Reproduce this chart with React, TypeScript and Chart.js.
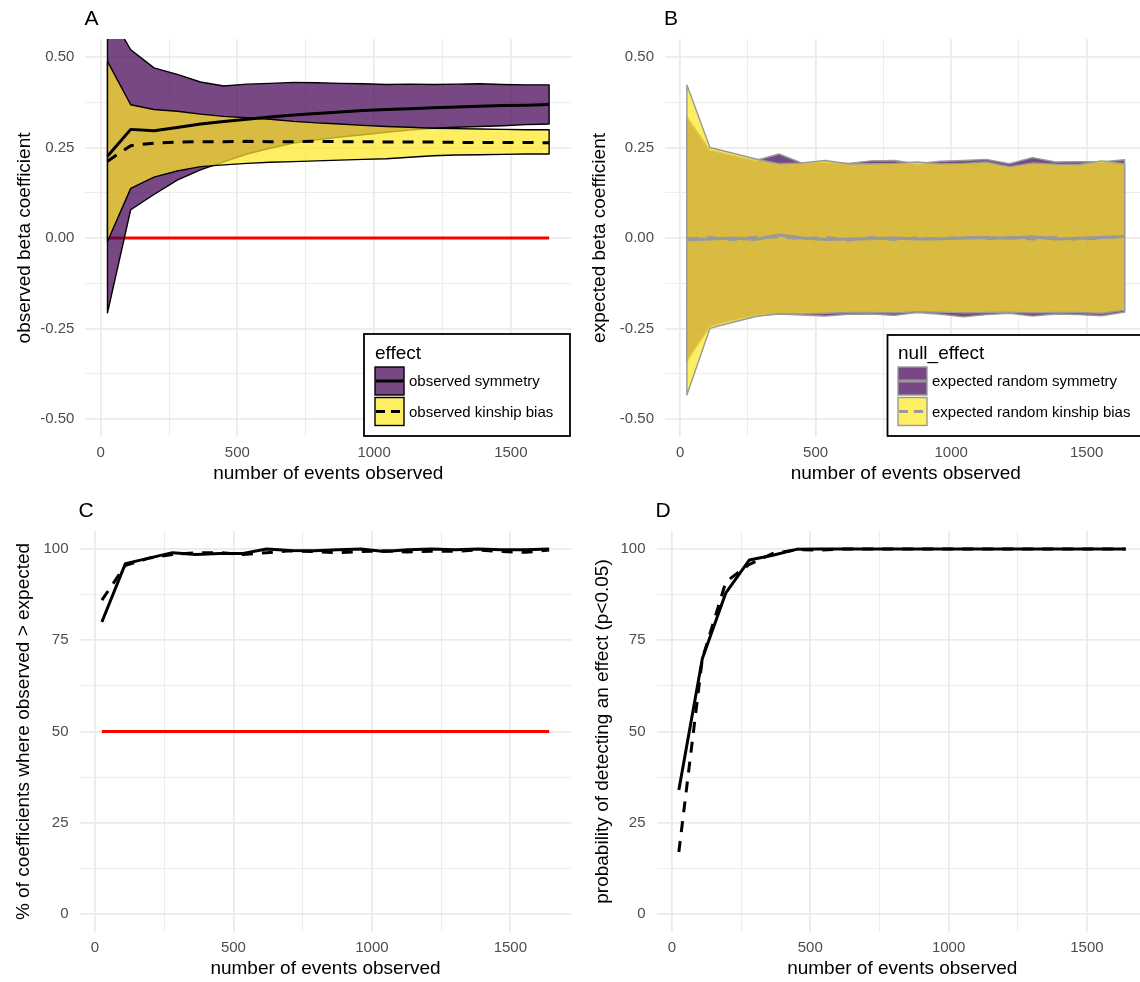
import React, { useEffect, useRef } from 'react';
import { Chart, registerables } from 'chart.js';

Chart.register(...registerables);

const FONT = "'Liberation Sans', Arial, Helvetica, sans-serif";

// number of events observed (shared x values)
const xEvents = [25, 110, 195, 280, 365, 450, 535, 620, 705, 790, 875, 960, 1045, 1130, 1215, 1300, 1385, 1470, 1555, 1640];

// Panel A: observed beta coefficients
const symUpper = [0.63, 0.52, 0.47, 0.452, 0.431, 0.42, 0.425, 0.427, 0.43, 0.429, 0.427, 0.426, 0.424, 0.425, 0.424, 0.425, 0.426, 0.424, 0.423, 0.423];
const symLower = [-0.207, 0.078, 0.12, 0.16, 0.188, 0.21, 0.232, 0.248, 0.262, 0.271, 0.279, 0.285, 0.292, 0.298, 0.303, 0.306, 0.308, 0.31, 0.313, 0.315];
const symMean = [0.226, 0.3, 0.296, 0.305, 0.315, 0.322, 0.328, 0.334, 0.34, 0.344, 0.348, 0.352, 0.355, 0.357, 0.36, 0.362, 0.364, 0.366, 0.367, 0.369];
const kinUpper = [0.488, 0.368, 0.355, 0.35, 0.342, 0.336, 0.332, 0.328, 0.322, 0.318, 0.315, 0.311, 0.308, 0.306, 0.303, 0.302, 0.301, 0.3, 0.299, 0.299];
const kinLower = [-0.01, 0.137, 0.168, 0.185, 0.197, 0.202, 0.206, 0.209, 0.211, 0.213, 0.215, 0.217, 0.219, 0.223, 0.227, 0.229, 0.23, 0.231, 0.232, 0.232];
const kinMean = [0.212, 0.255, 0.262, 0.265, 0.266, 0.266, 0.267, 0.266, 0.266, 0.267, 0.266, 0.266, 0.265, 0.265, 0.265, 0.264, 0.264, 0.264, 0.264, 0.263];
const zeroEffect = 0;

// Panel B: expected (null) beta coefficients
const nullSymUpper = [0.335, 0.243, 0.228, 0.214, 0.232, 0.207, 0.21, 0.206, 0.213, 0.214, 0.205, 0.212, 0.214, 0.217, 0.205, 0.222, 0.21, 0.211, 0.21, 0.216];
const nullSymLower = [-0.34, -0.245, -0.228, -0.215, -0.21, -0.213, -0.216, -0.211, -0.21, -0.214, -0.206, -0.211, -0.218, -0.212, -0.208, -0.216, -0.21, -0.212, -0.215, -0.205];
const nullSymMean = [-0.005, -0.003, 0.0, -0.004, 0.008, 0.0, -0.004, -0.003, -0.002, 0.0, -0.003, -0.002, 0.0, 0.001, -0.001, 0.003, -0.003, -0.001, 0.001, 0.004];
const nullKinUpper = [0.423, 0.25, 0.234, 0.218, 0.205, 0.207, 0.214, 0.205, 0.205, 0.206, 0.21, 0.205, 0.206, 0.21, 0.197, 0.207, 0.204, 0.203, 0.213, 0.205];
const nullKinLower = [-0.434, -0.25, -0.233, -0.217, -0.209, -0.21, -0.208, -0.206, -0.206, -0.207, -0.204, -0.205, -0.207, -0.206, -0.205, -0.207, -0.206, -0.206, -0.208, -0.2];
const nullKinMean = [-0.002, 0.001, -0.004, 0.002, 0.003, -0.002, 0.002, -0.006, 0.001, -0.004, 0.0, -0.003, 0.002, -0.002, 0.001, -0.003, 0.002, -0.004, 0.0, 0.005];

// Panel C: % of coefficients where observed > expected
const pctSym = [80, 96, 97.5, 99, 98.5, 98.8, 98.8, 100, 99.6, 99.5, 99.8, 100, 99.3, 99.8, 100, 99.8, 100, 99.8, 99.8, 100];
const pctKin = [86, 95.5, 97.5, 98.5, 99, 99, 98.5, 99, 99.5, 99.3, 99, 99.3, 99.5, 99.2, 99.4, 99.4, 99.7, 99.3, 99.1, 99.7];
const chanceLevel = 50;

// Panel D: probability of detecting an effect
const powSym = [34, 70, 88, 97, 98.3, 99.9, 100, 100, 100, 100, 100, 100, 100, 100, 100, 100, 100, 100, 100, 100];
const powKin = [17, 70, 91, 95.8, 98.8, 99.8, 99.7, 100, 100, 100, 100, 100, 100, 100, 100, 100, 100, 100, 100, 100];

// axes
const xMajorTicks = [0, 500, 1000, 1500];
const xMinorTicks = [250, 750, 1250];
const xLimits = [-55.75, 1720.75];
const betaMajorTicks = [-0.5, -0.25, 0, 0.25, 0.5];
const betaMinorTicks = [-0.375, -0.125, 0.125, 0.375];
const betaLimits = [-0.55, 0.55];
const pctMajorTicks = [0, 25, 50, 75, 100];
const pctMinorTicks = [12.5, 37.5, 62.5, 87.5];
const pctLimits = [-5, 105];

// colours
const PURPLE_FILL = 'rgba(68,1,84,0.72)';
const YELLOW_FILL = 'rgba(253,231,37,0.72)';
const BLACK = '#000000';
const GREY = '#999999';
const RED = '#FF0000';
const DASH = [11, 9];

type Pt = { x: number; y: number };
const series = (ys: number[]): Pt[] => xEvents.map((x, i) => ({ x, y: ys[i] }));
const band = (upper: number[], lower: number[]): Pt[] => {
  const top = series(upper);
  const bottom = series(lower).reverse();
  return [...top, ...bottom, top[0]];
};
const hline = (y: number): Pt[] => [
  { x: xEvents[0], y },
  { x: xEvents[xEvents.length - 1], y },
];

const lineDs = (label: string, data: Pt[], color: string, width: number, dash: number[], order: number) => ({
  label,
  data,
  showLine: true,
  borderColor: color,
  backgroundColor: color,
  borderWidth: width,
  borderDash: dash,
  borderJoinStyle: 'round',
  pointRadius: 0,
  pointHoverRadius: 0,
  fill: false,
  tension: 0,
  order,
});

const bandDs = (label: string, data: Pt[], fillColor: string, edge: string, order: number) => ({
  label,
  data,
  showLine: true,
  borderColor: edge,
  backgroundColor: fillColor,
  borderWidth: 1.4,
  borderJoinStyle: 'round',
  pointRadius: 0,
  pointHoverRadius: 0,
  fill: 'shape',
  tension: 0,
  order,
});

type LegendItem = { label: string; fill: string; edge: string; line: string; dash: number[] };
type LegendSpec = {
  x: number; y: number; w: number; h: number; title: string; titleY: number;
  keyX: number; keyY: number; keyW: number; keyH: number; keyStep: number; labelX: number;
  items: LegendItem[];
};

type PanelSpec = {
  letter: string;
  left: number; top: number; w: number; h: number;
  yAxisW: number; padTop: number; padRight: number; xAxisH: number;
  yLim: number[]; yMajor: number[]; yMinor: number[]; yFmt: (v: number) => string;
  xTitle: string; yTitle: string; xTitleY: number; yTitleX: number; letterY: number;
  datasets: any[];
  legend?: LegendSpec;
};

function drawLegend(ctx: CanvasRenderingContext2D, L: LegendSpec) {
  ctx.save();
  ctx.fillStyle = '#ffffff';
  ctx.fillRect(L.x, L.y, L.w, L.h);
  ctx.strokeStyle = '#000000';
  ctx.lineWidth = 1.8;
  ctx.strokeRect(L.x, L.y, L.w, L.h);
  ctx.fillStyle = '#000000';
  ctx.font = `19px ${FONT}`;
  ctx.textAlign = 'left';
  ctx.textBaseline = 'alphabetic';
  ctx.fillText(L.title, L.keyX, L.titleY);
  L.items.forEach((it, i) => {
    const ky = L.keyY + i * L.keyStep;
    const cy = ky + L.keyH / 2;
    ctx.fillStyle = it.fill;
    ctx.fillRect(L.keyX, ky, L.keyW, L.keyH);
    ctx.strokeStyle = it.edge;
    ctx.lineWidth = 1.4;
    ctx.strokeRect(L.keyX, ky, L.keyW, L.keyH);
    ctx.strokeStyle = it.line;
    ctx.lineWidth = 3;
    ctx.setLineDash(it.dash);
    ctx.beginPath();
    ctx.moveTo(L.keyX + 1, cy);
    ctx.lineTo(L.keyX + L.keyW - 1, cy);
    ctx.stroke();
    ctx.setLineDash([]);
    ctx.fillStyle = '#000000';
    ctx.font = `15px ${FONT}`;
    ctx.textBaseline = 'middle';
    ctx.fillText(it.label, L.labelX, cy + 1);
  });
  ctx.restore();
}

const makeDecor = (spec: PanelSpec) => ({
  id: 'decor' + spec.letter,
  afterDraw(chart: any) {
    const { ctx, chartArea: a } = chart;
    ctx.save();
    ctx.fillStyle = '#000000';
    ctx.font = `21px ${FONT}`;
    ctx.textAlign = 'left';
    ctx.textBaseline = 'alphabetic';
    ctx.fillText(spec.letter, a.left - 1, spec.letterY);
    ctx.font = `19px ${FONT}`;
    ctx.textAlign = 'center';
    ctx.textBaseline = 'middle';
    ctx.fillText(spec.xTitle, (a.left + a.right) / 2, spec.xTitleY);
    ctx.save();
    ctx.translate(spec.yTitleX, (a.top + a.bottom) / 2);
    ctx.rotate(-Math.PI / 2);
    ctx.fillText(spec.yTitle, 0, 0);
    ctx.restore();
    if (spec.legend) drawLegend(ctx, spec.legend);
    ctx.restore();
  },
});

const isIn = (arr: number[], v: any) => typeof v === 'number' && arr.some((m) => Math.abs(m - v) < 1e-9);

function buildConfig(spec: PanelSpec): any {
  const yTicks = [...spec.yMajor, ...spec.yMinor].sort((p, q) => p - q);
  const xTicks = [...xMajorTicks, ...xMinorTicks].sort((p, q) => p - q);
  return {
    type: 'line',
    data: { datasets: spec.datasets },
    options: {
      responsive: false,
      maintainAspectRatio: false,
      animation: false,
      devicePixelRatio: 1,
      events: [],
      layout: { padding: { left: 0, top: spec.padTop, right: spec.padRight, bottom: 0 } },
      plugins: { legend: { display: false }, tooltip: { enabled: false } },
      scales: {
        x: {
          type: 'linear',
          min: xLimits[0],
          max: xLimits[1],
          afterBuildTicks: (s: any) => {
            s.ticks = xTicks.map((v) => ({ value: v }));
          },
          afterFit: (s: any) => {
            s.height = spec.xAxisH;
          },
          grid: {
            color: '#EBEBEB',
            lineWidth: (c: any) => (c.tick && isIn(xMajorTicks, c.tick.value) ? 1.8 : 0.9),
            drawTicks: false,
          },
          border: { display: false },
          ticks: {
            autoSkip: false,
            maxRotation: 0,
            padding: 7,
            color: '#4D4D4D',
            font: { family: FONT, size: 15 },
            callback: (v: any) => (isIn(xMajorTicks, v) ? String(v) : ''),
          },
        },
        y: {
          type: 'linear',
          min: spec.yLim[0],
          max: spec.yLim[1],
          afterBuildTicks: (s: any) => {
            s.ticks = yTicks.map((v) => ({ value: v }));
          },
          afterFit: (s: any) => {
            s.width = spec.yAxisW;
          },
          grid: {
            color: '#EBEBEB',
            lineWidth: (c: any) => (c.tick && isIn(spec.yMajor, c.tick.value) ? 1.8 : 0.9),
            drawTicks: false,
          },
          border: { display: false },
          ticks: {
            autoSkip: false,
            padding: 11,
            color: '#4D4D4D',
            font: { family: FONT, size: 15 },
            callback: (v: any) => (isIn(spec.yMajor, v) ? spec.yFmt(v) : ''),
          },
        },
      },
    },
    plugins: [makeDecor(spec)],
  };
}

const fmtBeta = (v: number) => (Math.abs(v) < 1e-9 ? '0.00' : v.toFixed(2));
const fmtPct = (v: number) => String(Math.round(v));

const panelA: PanelSpec = {
  letter: 'A',
  left: 0, top: 0, w: 576, h: 490,
  yAxisW: 85.4, padTop: 38.9, padRight: 4.8, xAxisH: 53,
  yLim: betaLimits, yMajor: betaMajorTicks, yMinor: betaMinorTicks, yFmt: fmtBeta,
  xTitle: 'number of events observed', yTitle: 'observed beta coefficient',
  xTitleY: 474, yTitleX: 24.5, letterY: 25,
  datasets: [
    lineDs('zero', hline(zeroEffect), RED, 3, [], 10),
    bandDs('observed symmetry range', band(symUpper, symLower), PURPLE_FILL, BLACK, 9),
    bandDs('observed kinship bias range', band(kinUpper, kinLower), YELLOW_FILL, BLACK, 8),
    lineDs('observed symmetry', series(symMean), BLACK, 3, [], 7),
    lineDs('observed kinship bias', series(kinMean), BLACK, 3, DASH, 6),
  ],
  legend: {
    x: 364, y: 334, w: 206, h: 102, title: 'effect', titleY: 359,
    keyX: 375, keyY: 367, keyW: 29, keyH: 28, keyStep: 30.5, labelX: 409,
    items: [
      { label: 'observed symmetry', fill: PURPLE_FILL, edge: BLACK, line: BLACK, dash: [] },
      { label: 'observed kinship bias', fill: YELLOW_FILL, edge: BLACK, line: BLACK, dash: [9, 6] },
    ],
  },
};

const panelB: PanelSpec = {
  letter: 'B',
  left: 576, top: 0, w: 580, h: 490,
  yAxisW: 89, padTop: 38.9, padRight: 9.5, xAxisH: 53,
  yLim: betaLimits, yMajor: betaMajorTicks, yMinor: betaMinorTicks, yFmt: fmtBeta,
  xTitle: 'number of events observed', yTitle: 'expected beta coefficient',
  xTitleY: 474, yTitleX: 24, letterY: 25,
  datasets: [
    bandDs('expected random symmetry range', band(nullSymUpper, nullSymLower), PURPLE_FILL, GREY, 9),
    bandDs('expected random kinship bias range', band(nullKinUpper, nullKinLower), YELLOW_FILL, GREY, 8),
    lineDs('expected random symmetry', series(nullSymMean), GREY, 3, [], 7),
    lineDs('expected random kinship bias', series(nullKinMean), GREY, 3, DASH, 6),
  ],
  legend: {
    x: 311.5, y: 335, w: 259, h: 101, title: 'null_effect', titleY: 359,
    keyX: 322, keyY: 367, keyW: 29, keyH: 28, keyStep: 30.5, labelX: 356,
    items: [
      { label: 'expected random symmetry', fill: PURPLE_FILL, edge: GREY, line: GREY, dash: [] },
      { label: 'expected random kinship bias', fill: YELLOW_FILL, edge: GREY, line: GREY, dash: [9, 6] },
    ],
  },
};

const panelC: PanelSpec = {
  letter: 'C',
  left: 0, top: 490, w: 576, h: 492,
  yAxisW: 79.5, padTop: 40.75, padRight: 4.5, xAxisH: 49.75,
  yLim: pctLimits, yMajor: pctMajorTicks, yMinor: pctMinorTicks, yFmt: fmtPct,
  xTitle: 'number of events observed', yTitle: '% of coefficients where observed > expected',
  xTitleY: 479, yTitleX: 24, letterY: 26.5,
  datasets: [
    lineDs('chance', hline(chanceLevel), RED, 3, [], 10),
    lineDs('observed kinship bias', series(pctKin), BLACK, 3, DASH, 8),
    lineDs('observed symmetry', series(pctSym), BLACK, 3, [], 7),
  ],
};

const panelD: PanelSpec = {
  letter: 'D',
  left: 576, top: 490, w: 580, h: 492,
  yAxisW: 80.5, padTop: 40.75, padRight: 8, xAxisH: 49.75,
  yLim: pctLimits, yMajor: pctMajorTicks, yMinor: pctMinorTicks, yFmt: fmtPct,
  xTitle: 'number of events observed', yTitle: 'probability of detecting an effect (p<0.05)',
  xTitleY: 479, yTitleX: 26.7, letterY: 26.5,
  datasets: [
    lineDs('observed kinship bias', series(powKin), BLACK, 3, DASH, 8),
    lineDs('observed symmetry', series(powSym), BLACK, 3, [], 7),
  ],
};

const panels = [panelA, panelB, panelC, panelD];

function Panel({ spec }: { spec: PanelSpec }) {
  const ref = useRef<HTMLCanvasElement>(null);
  useEffect(() => {
    const chart = new Chart(ref.current as HTMLCanvasElement, buildConfig(spec));
    return () => chart.destroy();
  }, [spec]);
  return (
    <canvas
      ref={ref}
      width={spec.w}
      height={spec.h}
      style={{ position: 'absolute', left: spec.left, top: spec.top, width: spec.w, height: spec.h }}
    />
  );
}

export default function App() {
  return (
    <div
      style={{
        position: 'fixed',
        left: 0,
        top: 0,
        width: 1140,
        height: 982,
        overflow: 'hidden',
        background: '#ffffff',
      }}
    >
      {panels.map((p) => (
        <Panel key={p.letter} spec={p} />
      ))}
    </div>
  );
}
